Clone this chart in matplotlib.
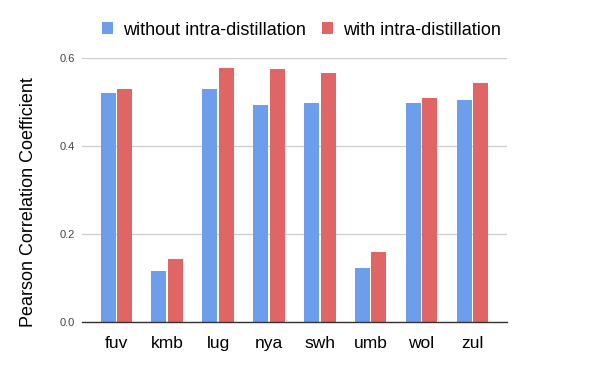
import numpy as np
import matplotlib.pyplot as plt

plt.rcParams['font.family'] = ['Liberation Sans', 'DejaVu Sans']

# values
languages = ["fuv", "kmb", "lug", "nya", "swh", "umb", "wol", "zul"]
without_intra = [0.521, 0.117, 0.530, 0.494, 0.498, 0.123, 0.498, 0.505]
with_intra = [0.530, 0.144, 0.577, 0.575, 0.566, 0.160, 0.509, 0.542]

fig = plt.figure(figsize=(6, 3.71), dpi=100)
ax = fig.add_axes([0.137, 0.132, 0.708, 0.712])

x = np.arange(len(languages))
w = 0.295
ax.bar(x - w / 2 - 0.015, without_intra, w, color="#6d9eeb", label="without intra-distillation")
ax.bar(x + w / 2 + 0.015, with_intra, w, color="#e06666", label="with intra-distillation")

ax.set_xlim(-0.67, 7.68)
ax.set_ylim(0, 0.6)
ax.set_yticks([0.0, 0.2, 0.4, 0.6])
ax.set_yticklabels(["0.0", "0.2", "0.4", "0.6"])
ax.set_xticks(x)
ax.set_xticklabels(languages)
ax.tick_params(axis="x", length=0, labelsize=12.5, pad=10, colors="#000000")
ax.tick_params(axis="y", length=0, labelsize=8, pad=5, colors="#444444")
ax.yaxis.grid(True, color="#cccccc", linewidth=0.9)
ax.set_axisbelow(True)
for s in ["top", "right", "left"]:
    ax.spines[s].set_visible(False)
ax.spines["bottom"].set_color("#333333")
ax.spines["bottom"].set_linewidth(1.0)

ax.set_ylabel("Pearson Correlation Coefficient", fontsize=13)
ax.yaxis.set_label_coords(-0.106, 0.455)

fig.legend(loc="center", bbox_to_anchor=(0.502, 0.919), ncol=2, frameon=False,
           fontsize=13, handlelength=0.6, handleheight=0.6, columnspacing=0.9,
           handletextpad=0.55)

fig.savefig("out.png", dpi=100)
